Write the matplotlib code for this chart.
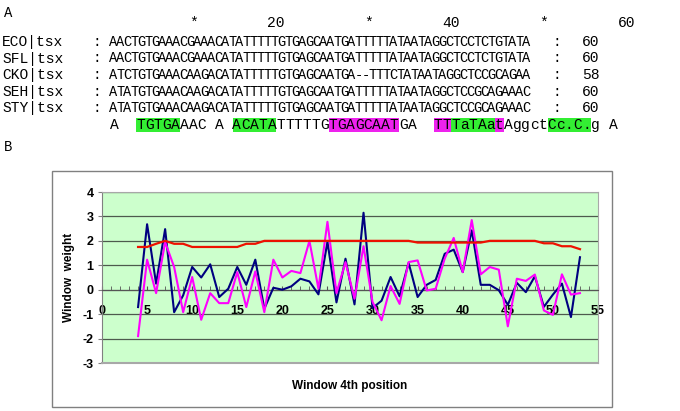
import matplotlib
matplotlib.use("Agg")
import matplotlib.pyplot as plt
from matplotlib.patches import Rectangle
from matplotlib.ticker import MultipleLocator

plt.rcParams["axes.unicode_minus"] = False

# ---------------- data ----------------
names = ["ECO|tsx", "SFL|tsx", "CKO|tsx", "SEH|tsx", "STY|tsx"]
seqs = [
    "AACTGTGAAACGAAACATATTTTTGTGAGCAATGATTTTTATAATAGGCTCCTCTGTATA",
    "AACTGTGAAACGAAACATATTTTTGTGAGCAATGATTTTTATAATAGGCTCCTCTGTATA",
    "ATCTGTGAAACAAGACATATTTTTGTGAGCAATGA--TTTCTATAATAGGCTCCGCAGAA",
    "ATATGTGAAACAAGACATATTTTTGTGAGCAATGATTTTTATAATAGGCTCCGCAGAAAC",
    "ATATGTGAAACAAGACATATTTTTGTGAGCAATGATTTTTATAATAGGCTCCGCAGAAAC",
]
lengths = ["60", "60", "58", "60", "60"]
consensus = "A  TGTGAAAC A ACATATTTTTGTGAGCAATGA  TTTaTAatAggctCc.C.g A"
green_cols = [(4, 8), (15, 19), (40, 44), (51, 55)]
magenta_cols = [(26, 33), (38, 39), (45, 45)]
ruler_marks = {10: "*", 20: "20", 30: "*", 40: "40", 50: "*", 60: "60"}

window = list(range(4, 54))
series_navy = [-0.71, 2.68, 0.25, 2.48, -0.92, -0.23, 0.93, 0.5, 1.04, -0.3,
               0.04, 0.93, 0.2, 1.23, -0.78, 0.08, 0.0, 0.14, 0.45, 0.34,
               -0.19, 1.96, -0.52, 1.27, -0.6, 3.15, -0.75, -0.45, 0.52, -0.27,
               1.1, -0.3, 0.2, 0.4, 1.47, 1.64, 0.72, 2.43, 0.2, 0.2,
               -0.02, -0.62, 0.28, -0.1, 0.55, -0.7, -0.2, 0.25, -1.12, 1.33]
series_magenta = [-1.9, 1.23, -0.14, 1.95, 0.93, -0.92, 0.52, -1.23, -0.14, -0.55,
                  -0.55, 0.72, -0.71, 0.75, -0.92, 1.23, 0.5, 0.77, 0.68, 2.0,
                  0.04, 2.78, -0.14, 1.13, -0.37, 1.78, -0.5, -1.25, 0.15, -0.58,
                  1.13, 1.2, -0.03, 0.04, 1.27, 2.12, 0.72, 2.85, 0.63, 0.93,
                  0.82, -1.5, 0.45, 0.36, 0.62, -0.85, -1.03, 0.63, -0.2, -0.14]
series_red = [1.75, 1.75, 1.88, 2.0, 1.88, 1.88, 1.75, 1.75, 1.75, 1.75,
              1.75, 1.75, 1.88, 1.88, 2.0, 2.0, 2.0, 2.0, 2.0, 2.0,
              2.0, 2.0, 2.0, 2.0, 2.0, 2.0, 2.0, 2.0, 2.0, 2.0,
              2.0, 1.93, 1.93, 1.93, 1.93, 1.93, 1.93, 1.93, 1.93, 2.0,
              2.0, 2.0, 2.0, 2.0, 2.0, 1.9, 1.9, 1.78, 1.78, 1.66]

# ---------------- figure ----------------
W, H = 680, 411
fig = plt.figure(figsize=(W / 100, H / 100), dpi=100)
bg = fig.add_axes([0, 0, 1, 1])
bg.set_xlim(0, W)
bg.set_ylim(H, 0)
bg.axis("off")

mono = "Liberation Mono"
fs_lbl = 10.5
fs_seq = 9.8
lbl_pitch = 8.75
seq_pitch = 7.0
x0 = 110.0
row_y = [42, 58.5, 75, 91.7, 108.3]
cons_y = 124.5

bg.text(4, 13, "A", fontsize=10, family=mono, va="center", ha="left")
bg.text(4, 147, "B", fontsize=10, family=mono, va="center", ha="left")

# ruler
for p, s in ruler_marks.items():
    if len(s) == 1:
        cx = x0 + (p - 0.5) * lbl_pitch
    else:
        cx = x0 + (p - 1) * lbl_pitch
    bg.text(cx, 23, s, fontsize=fs_lbl, family=mono, ha="center", va="center")

for name, seq, ln, y in zip(names, seqs, lengths, row_y):
    bg.text(2, y, name, fontsize=fs_lbl, family=mono, ha="left", va="center")
    bg.text(96.5, y, ":", fontsize=fs_lbl, family=mono, ha="center", va="center")
    for i, ch in enumerate(seq):
        bg.text(x0 + (i + 0.5) * seq_pitch, y, ch, fontsize=fs_seq, family=mono,
                ha="center", va="center")
    bg.text(557, y, ":", fontsize=fs_lbl, family=mono, ha="center", va="center")
    bg.text(591, y, ln, fontsize=fs_lbl, family=mono, ha="center", va="center")

# consensus highlights
for (a, b) in green_cols:
    bg.add_patch(Rectangle((x0 + (a - 1) * lbl_pitch, 117.5), (b - a + 1) * lbl_pitch, 14,
                           facecolor="#33ee33", edgecolor="none"))
for (a, b) in magenta_cols:
    bg.add_patch(Rectangle((x0 + (a - 1) * lbl_pitch, 117.5), (b - a + 1) * lbl_pitch, 14,
                           facecolor="#ee22ee", edgecolor="none"))
for i, ch in enumerate(consensus):
    if ch != " ":
        bg.text(x0 + (i + 0.5) * lbl_pitch, cons_y, ch, fontsize=fs_lbl, family=mono,
                ha="center", va="center")

# chart outer border
bg.add_patch(Rectangle((52, 171), 560, 236, facecolor="none", edgecolor="#808080", lw=1.0))

bg.text(69, 277, "Window  weight", rotation=90, fontsize=8.5, fontweight="bold",
        family="Liberation Sans", ha="center", va="center")
bg.text(350, 386, "Window 4th position", fontsize=8.5, fontweight="bold",
        family="Liberation Sans", ha="center", va="center")

# ---------------- line chart ----------------
ax = fig.add_axes([102 / W, 1 - 363 / H, 496 / W, 171 / H])
ax.set_facecolor("#ccffcc")
ax.set_xlim(0, 55)
ax.set_ylim(-3, 4)
ax.set_axisbelow(True)
ax.yaxis.set_major_locator(MultipleLocator(1))
ax.grid(axis="y", color="#4d5a4d", lw=0.9)
for s in ["top", "right"]:
    ax.spines[s].set_color("#a8a8a8")
ax.spines["left"].set_color("#808080")
ax.spines["bottom"].set_position(("data", 0))
ax.spines["bottom"].set_color("#555555")

ax.plot(window, series_navy, color="#000080", lw=1.5, zorder=3)
ax.plot(window, series_magenta, color="#ff00ff", lw=1.5, zorder=3)
ax.plot(window, series_red, color="#ee1100", lw=1.6, zorder=4)

ax.xaxis.set_major_locator(MultipleLocator(5))
ax.xaxis.set_minor_locator(MultipleLocator(1))
ax.tick_params(axis="x", which="both", direction="in", length=3, color="#555555",
               pad=11, labelsize=9)
ax.tick_params(axis="y", which="major", direction="out", length=3, color="#808080",
               pad=3, labelsize=9)
for lab in ax.get_xticklabels() + ax.get_yticklabels():
    lab.set_fontweight("bold")
    lab.set_family("Liberation Sans")

ax.axhline(-3, color="#a8a8a8", lw=1.5, zorder=5, clip_on=False)

fig.savefig("out.png", dpi=100)
